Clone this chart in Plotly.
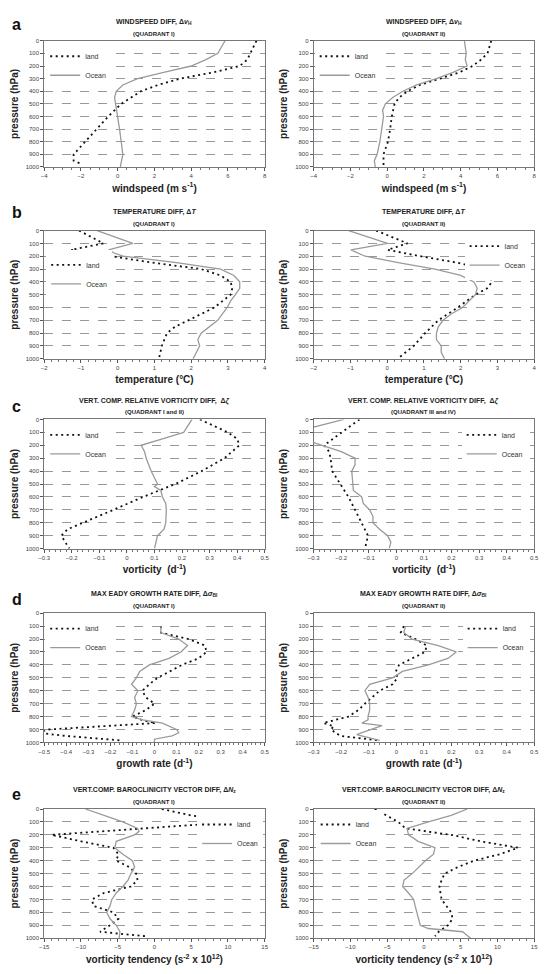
import plotly.graph_objects as go

# ---------------- DATA ----------------
# (a) windspeed difference, Quadrant I
a1_land_p = [0, 100, 150, 200, 250, 300, 350, 400, 450, 500, 600, 700, 800, 900, 950, 975]
a1_land_v = [7.55, 7.23, 7.05, 6.64, 5.2, 3.4, 2.2, 1.26, 0.7, 0.19, -0.52, -1.15, -1.77, -2.4, -2.4, -2.0]
a1_ocean_p = [0, 100, 150, 200, 250, 300, 350, 400, 450, 500, 600, 700, 800, 900, 1000]
a1_ocean_v = [5.84, 5.45, 4.8, 4.0, 2.5, 1.08, 0.28, -0.08, -0.17, -0.11, 0.0, 0.1, 0.19, 0.28, 0.14]
# (a) Quadrant II
a2_land_p = [0, 100, 150, 200, 250, 300, 350, 400, 450, 500, 600, 700, 800, 900, 1000]
a2_land_v = [5.66, 5.46, 5.1, 4.65, 3.94, 2.86, 1.78, 1.1, 0.65, 0.4, 0.25, 0.16, 0.04, -0.2, -0.2]
a2_ocean_p = [0, 100, 150, 200, 250, 300, 350, 400, 450, 500, 550, 600, 700, 800, 900, 950, 1000]
a2_ocean_v = [4.2, 4.3, 4.25, 4.35, 3.58, 2.68, 1.6, 0.85, 0.3, -0.1, -0.25, -0.2, -0.3, -0.4, -0.55, -0.7, -0.65]

# (b) temperature difference, Quadrant I
b1_land_p = [0, 100, 150, 200, 250, 300, 350, 400, 450, 500, 600, 700, 750, 800, 900, 1000]
b1_land_v = [-1.05, -0.39, -1.27, -0.12, 0.94, 2.27, 2.8, 3.07, 3.12, 3.07, 2.63, 1.92, 1.56, 1.34, 1.2, 1.12]
b1_ocean_p = [0, 100, 150, 175, 200, 250, 300, 350, 400, 450, 500, 550, 600, 700, 800, 850, 900, 950, 1000]
b1_ocean_v = [-0.56, 0.41, -0.25, -0.1, 0.15, 1.6, 2.8, 3.16, 3.32, 3.32, 3.2, 3.07, 2.98, 2.72, 2.27, 2.18, 2.23, 2.14, 2.05]
# (b) Quadrant II
b2_land_p = [0, 100, 150, 200, 250, 300, 350, 400, 450, 500, 600, 700, 800, 900, 1000]
b2_land_v = [-0.3, 0.55, 0.01, 0.9, 1.9, 2.65, 2.8, 2.85, 2.72, 2.4, 1.92, 1.39, 1.03, 0.72, 0.28]
b2_ocean_p = [0, 100, 150, 200, 250, 300, 350, 400, 450, 500, 600, 650, 700, 750, 800, 850, 900, 950, 1000]
b2_ocean_v = [-1.05, 0.01, -0.99, -0.6, 0.3, 1.3, 2.0, 2.36, 2.45, 2.4, 2.05, 1.74, 1.52, 1.39, 1.34, 1.34, 1.47, 1.47, 1.56]

# (c) relative vorticity difference, Quadrant I and II
c1_land_p = [0, 100, 150, 200, 300, 400, 500, 600, 700, 800, 850, 900, 1000]
c1_land_v = [0.265, 0.366, 0.40, 0.408, 0.354, 0.271, 0.176, 0.058, -0.049, -0.161, -0.215, -0.238, -0.209]
c1_ocean_p = [0, 100, 150, 200, 250, 300, 400, 500, 520, 550, 600, 650, 700, 800, 850, 900, 1000]
c1_ocean_v = [0.236, 0.206, 0.129, 0.052, 0.064, 0.07, 0.088, 0.111, 0.1, 0.123, 0.129, 0.141, 0.143, 0.141, 0.135, 0.111, 0.1]
# (c) Quadrant III and IV
c2_land_p = [0, 100, 150, 200, 250, 300, 400, 500, 600, 700, 800, 900, 1000]
c2_land_v = [-0.134, -0.197, -0.233, -0.262, -0.244, -0.239, -0.233, -0.203, -0.174, -0.15, -0.126, -0.103, -0.114]
c2_ocean_p = [0, 60, 100, 150, 180, 200, 250, 300, 350, 400, 500, 550, 580, 600, 650, 700, 750, 800, 850, 900, 950, 1000]
c2_ocean_v = [-0.191, -0.3, -0.33, -0.34, -0.3, -0.27, -0.2, -0.15, -0.15, -0.162, -0.159, -0.156, -0.138, -0.126, -0.12, -0.097, -0.085, -0.085, -0.061, -0.032, -0.02, -0.026]

# (d) max Eady growth rate difference, Quadrant I
d1_land_p = [100, 150, 200, 250, 300, 350, 400, 450, 500, 550, 600, 650, 700, 750, 800, 830, 850, 900, 925, 950, 985]
d1_land_v = [0.029, 0.029, 0.155, 0.229, 0.236, 0.2, 0.125, 0.066, 0.014, -0.023, -0.055, -0.04, 0.0, -0.04, -0.1, -0.05, 0.005, -0.48, -0.53, -0.4, -0.15]
d1_ocean_p = [100, 150, 200, 250, 300, 350, 400, 450, 500, 550, 600, 650, 700, 750, 800, 825, 850, 900, 925, 950, 975, 1000]
d1_ocean_v = [0.029, 0.029, 0.11, 0.15, 0.12, 0.066, -0.023, -0.067, -0.082, -0.104, -0.075, -0.09, -0.082, -0.09, -0.104, -0.053, 0.036, 0.1, 0.11, 0.08, 0.0, 0.0]
# (d) Quadrant II
d2_land_p = [100, 150, 200, 250, 300, 350, 400, 450, 500, 550, 600, 700, 750, 800, 850, 875, 900, 950, 985]
d2_land_v = [0.027, 0.016, 0.069, 0.11, 0.104, 0.057, 0.01, -0.002, 0.004, -0.014, -0.061, -0.114, -0.138, -0.174, -0.265, -0.227, -0.238, -0.203, -0.06]
d2_ocean_p = [100, 150, 200, 250, 300, 350, 400, 450, 500, 550, 600, 650, 700, 750, 800, 825, 850, 870, 925, 940, 985]
d2_ocean_v = [0.033, 0.027, 0.057, 0.152, 0.217, 0.187, 0.116, 0.022, -0.014, -0.097, -0.114, -0.103, -0.097, -0.097, -0.103, -0.103, -0.125, -0.052, -0.125, -0.144, -0.061]

# (e) baroclinicity vector difference, Quadrant I
e1_land_p = [0, 50, 100, 150, 200, 250, 300, 350, 400, 450, 500, 550, 600, 650, 700, 750, 800, 850, 900, 950, 975, 985]
e1_land_v = [1.0, 5.0, 11.2, -1.5, -14.0, -10.0, -5.6, -4.9, -5.2, -3.4, -2.5, -2.3, -3.2, -6.9, -8.5, -8.3, -5.6, -4.9, -6.05, -7.4, -3.4, -1.2]
e1_ocean_p = [0, 50, 100, 150, 175, 200, 250, 300, 350, 400, 450, 500, 550, 600, 650, 700, 750, 800, 850, 900, 950, 1000]
e1_ocean_v = [-9.4, -6.9, -4.3, -2.3, -2.1, -2.7, -5.2, -5.4, -4.3, -3.0, -2.7, -3.2, -3.6, -4.3, -5.2, -5.8, -6.05, -6.5, -6.05, -5.2, -4.7, -4.8]
# (e) Quadrant II
e2_land_p = [0, 50, 100, 150, 200, 250, 300, 350, 400, 450, 500, 550, 600, 700, 800, 850, 900, 950, 985]
e2_land_v = [-6.7, -5.0, -3.5, -2.5, 3.7, 7.7, 12.8, 10.3, 6.8, 4.6, 2.8, 2.4, 2.1, 2.4, 3.7, 3.9, 3.25, 2.0, 1.5]
e2_ocean_p = [0, 50, 100, 150, 200, 250, 300, 350, 400, 450, 500, 550, 600, 650, 700, 750, 800, 850, 900, 925, 950, 1000]
e2_ocean_v = [5.9, 3.7, 0.6, -2.3, -2.1, -0.8, 1.5, 1.3, 0.18, -0.7, -1.6, -2.7, -2.9, -2.1, -1.4, -1.2, -0.95, -0.7, -0.5, 0.6, 5.25, 6.35]

# Labels
panel_letters = ["a", "b", "c", "d", "e"]
titles = [
    "WINDSPEED DIFF, Δ<i>v</i><sub>H</sub>", "WINDSPEED DIFF, Δ<i>v</i><sub>H</sub>",
    "TEMPERATURE DIFF, Δ<i>T</i>", "TEMPERATURE DIFF, Δ<i>T</i>",
    "VERT. COMP. RELATIVE VORTICITY DIFF,  Δ<i>ζ</i>", "VERT. COMP. RELATIVE VORTICITY DIFF,  Δ<i>ζ</i>",
    "MAX EADY GROWTH RATE DIFF, Δ<i>σ</i><sub>BI</sub>", "MAX EADY GROWTH RATE DIFF, Δ<i>σ</i><sub>BI</sub>",
    "VERT.COMP. BAROCLINICITY VECTOR DIFF, Δ<i>N</i><sub>z</sub>", "VERT.COMP. BAROCLINICITY VECTOR DIFF, Δ<i>N</i><sub>z</sub>",
]
subtitles = ["(QUADRANT I)", "(QUADRANT II)", "(QUADRANT I)", "(QUADRANT II)",
             "(QUADRANT I and II)", "(QUADRANT III and IV)", "(QUADRANT I)", "(QUADRANT II)",
             "(QUADRANT I)", "(QUADRANT II)"]
x_titles = ["windspeed (m s<sup>-1</sup>)", "temperature (°C)", "vorticity  (d<sup>-1</sup>)",
            "growth rate (d<sup>-1</sup>)", "vorticity tendency (s<sup>-2</sup> x 10<sup>12</sup>)"]
y_title = "pressure (hPa)"
y_ticks = [0, 100, 200, 300, 400, 500, 600, 700, 800, 900, 1000]

series = [
    (a1_land_p, a1_land_v, a1_ocean_p, a1_ocean_v),
    (a2_land_p, a2_land_v, a2_ocean_p, a2_ocean_v),
    (b1_land_p, b1_land_v, b1_ocean_p, b1_ocean_v),
    (b2_land_p, b2_land_v, b2_ocean_p, b2_ocean_v),
    (c1_land_p, c1_land_v, c1_ocean_p, c1_ocean_v),
    (c2_land_p, c2_land_v, c2_ocean_p, c2_ocean_v),
    (d1_land_p, d1_land_v, d1_ocean_p, d1_ocean_v),
    (d2_land_p, d2_land_v, d2_ocean_p, d2_ocean_v),
    (e1_land_p, e1_land_v, e1_ocean_p, e1_ocean_v),
    (e2_land_p, e2_land_v, e2_ocean_p, e2_ocean_v),
]

# axis ranges / ticks per subplot
x_ranges = [(-4, 8), (-4, 8), (-2, 4), (-2, 4), (-0.3, 0.5), (-0.3, 0.5),
            (-0.5, 0.5), (-0.3, 0.5), (-15, 15), (-15, 15)]
x_dticks = [2, 2, 1, 1, 0.1, 0.1, 0.1, 0.1, 5, 5]
x_minor = [0.5, 0.5, 0.2, 0.2, 0.02, 0.02, 0.02, 0.02, 1, 1]

# ---------------- LAYOUT GEOMETRY ----------------
W, H = 549, 974
col_px = [(39, 264), (314, 539)]
row_top_px = [38, 229, 419, 614, 811]
row_bot_px = [165, 358, 549, 744, 941]

FONT = "Liberation Sans, Arial, sans-serif"


def px_x(x):
    return x / W


def px_y(y):
    return 1 - y / H


fig = go.Figure()

# legend placements: (left x px, top y px)
legend_pos = [
    (40, 39), (315, 39),
    (41, 249), (468, 230),
    (40, 420), (465, 420),
    (40, 615), (466, 615),
    (195, 812), (316, 812),
]

layout = dict(
    width=W, height=H,
    margin=dict(l=0, r=0, t=0, b=0),
    paper_bgcolor="white", plot_bgcolor="white",
    font=dict(family=FONT, color="#222"),
    showlegend=True,
)

annotations = []

for k in range(10):
    r, c = divmod(k, 2)
    n = k + 1
    xa = "x" if n == 1 else f"x{n}"
    ya = "y" if n == 1 else f"y{n}"
    lg = "legend" if n == 1 else f"legend{n}"
    lp, lv, op, ov = series[k]
    fig.add_trace(go.Scatter(
        x=lv, y=lp, mode="lines", name="land",
        line=dict(color="#111", width=1.8, dash="2px,3.5px"),
        xaxis=xa, yaxis=ya, legend=lg,
    ))
    fig.add_trace(go.Scatter(
        x=ov, y=op, mode="lines", name="Ocean",
        line=dict(color="#9a9a9a", width=1.3),
        xaxis=xa, yaxis=ya, legend=lg,
    ))
    x0, x1 = col_px[c]
    xkey = "xaxis" if n == 1 else f"xaxis{n}"
    ykey = "yaxis" if n == 1 else f"yaxis{n}"
    layout[xkey] = dict(
        domain=[px_x(x0), px_x(x1)], anchor=ya,
        range=list(x_ranges[k]), dtick=x_dticks[k], tick0=0,
        showgrid=False, zeroline=False,
        showline=True, linecolor="#777", linewidth=1, mirror=True,
        ticks="outside", ticklen=3, tickcolor="#555",
        minor=dict(dtick=x_minor[k], ticks="outside", ticklen=2, tickcolor="#777"),
        tickfont=dict(size=6, color="#444", family=FONT),
        title=dict(text=f"<b>{x_titles[r]}</b>", font=dict(size=10, color="#222", family=FONT), standoff=6),
    )
    layout[ykey] = dict(
        domain=[px_y(row_bot_px[r]), px_y(row_top_px[r])], anchor=xa,
        range=[1000, 0], tickvals=y_ticks,
        showgrid=True, gridcolor="#999", griddash="dash", gridwidth=0.7,
        zeroline=False,
        showline=True, linecolor="#777", linewidth=1, mirror=True,
        ticks="outside", ticklen=3, tickcolor="#555",
        tickfont=dict(size=6, color="#444", family=FONT),
        title=dict(text=f"<b>{y_title}</b>", font=dict(size=10, color="#222", family=FONT), standoff=5),
    )
    lx, ly = legend_pos[k]
    layout[lg] = dict(
        x=px_x(lx), y=px_y(ly), xanchor="left", yanchor="top",
        xref="paper", yref="paper",
        bgcolor="white", borderwidth=0,
        font=dict(size=7, color="#333", family=FONT),
        tracegroupgap=0,
    )
    # subplot titles
    cx = (x0 + x1) / 2
    annotations.append(dict(
        text=f"<b>{titles[k]}</b>", x=px_x(cx), y=px_y(row_top_px[r] - 19),
        xref="paper", yref="paper", showarrow=False, xanchor="center", yanchor="middle",
        font=dict(size=7, color="#222", family=FONT),
    ))
    annotations.append(dict(
        text=f"<b>{subtitles[k]}</b>", x=px_x(cx), y=px_y(row_top_px[r] - 7),
        xref="paper", yref="paper", showarrow=False, xanchor="center", yanchor="middle",
        font=dict(size=6, color="#222", family=FONT),
    ))

# panel letters
letter_y = [22, 211, 406, 600, 796]
for r in range(5):
    annotations.append(dict(
        text=f"<b>{panel_letters[r]}</b>", x=px_x(4), y=px_y(letter_y[r]),
        xref="paper", yref="paper", showarrow=False, xanchor="left", yanchor="middle",
        font=dict(size=16, color="#111", family=FONT),
    ))

layout["annotations"] = annotations
fig.update_layout(**layout)
fig.write_html("out.html")
